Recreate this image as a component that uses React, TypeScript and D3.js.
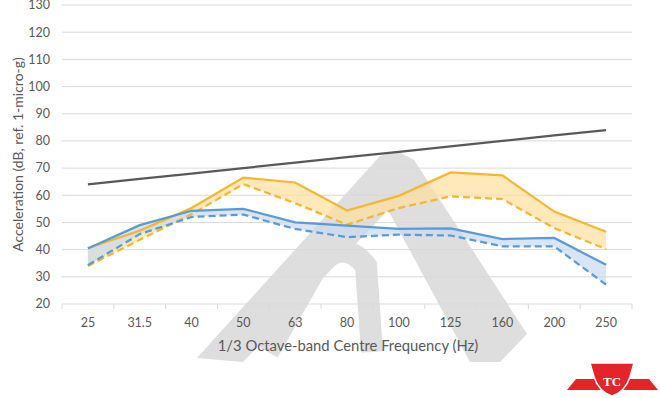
import React from 'react';
import * as d3 from 'd3';

const width = 660;
const height = 398;

// 1/3 octave band centre frequencies (Hz)
const categories = ['25', '31.5', '40', '50', '63', '80', '100', '125', '160', '200', '250'];
const yTicks = [20, 30, 40, 50, 60, 70, 80, 90, 100, 110, 120, 130];

// criterion curve (grey)
const criterion = [64, 66, 68, 70, 72, 74, 76, 78, 80, 82, 84];
// yellow: upper (solid) and lower (dashed) bound
const yellowUpper = [40.6, 47, 55.3, 66.5, 64.7, 54.4, 59.8, 68.4, 67.3, 54, 46.6];
const yellowLower = [34, 43.6, 53, 64.1, 57.1, 49.2, 55.3, 59.6, 58.6, 47.9, 40.2];
// blue: upper (solid) and lower (dashed) bound
const blueUpper = [40.4, 49, 54.3, 55, 50, 48.8, 47.6, 47.8, 43.9, 44.3, 34.4];
const blueLower = [34.3, 45.7, 52, 52.9, 47.6, 44.6, 45.5, 45.2, 41.2, 41.2, 27.1];

const margin = { left: 62, right: 28, top: 5, bottom: 94 };

const App = () => {
  const x = d3
    .scaleBand<string>()
    .domain(categories)
    .range([margin.left, width - margin.right])
    .padding(0);
  const y = d3.scaleLinear().domain([20, 130]).range([height - margin.bottom, margin.top]);
  const cx = (i: number) => (x(categories[i]) as number) + x.bandwidth() / 2;

  const line = d3
    .line<number>()
    .x((d, i) => cx(i))
    .y((d) => y(d));
  const band = (upper: number[], lower: number[]) =>
    d3
      .area<number>()
      .x((d, i) => cx(i))
      .y0((d, i) => y(lower[i]))
      .y1((d) => y(d))(upper) as string;

  const font = 'Lato, "Open Sans", sans-serif';
  const textColor = '#595959';
  const yellow = '#F4B633';
  const blue = '#5B9BD5';
  const y0 = y(20);

  return (
    <svg
      width={width}
      height={height}
      style={{ position: 'absolute', left: 0, top: 0, background: '#fff' }}
      fontFamily={font}
    >
      {/* watermark */}
      <g fill="#d6d6d6" opacity={0.8}>
        <polygon points="380,156 397,151 414,160 527,334 500,362 470,362 388,210 243,362 197,358" />
        <path d="M268 352 L316 268 Q343 236 366 266 L372 352" fill="none" stroke="#d6d6d6" strokeWidth={22} />
      </g>

      {/* grid */}
      {yTicks.map((t) => (
        <line
          key={t}
          x1={margin.left}
          x2={width - margin.right}
          y1={y(t)}
          y2={y(t)}
          stroke="#d9d9d9"
          strokeWidth={1}
        />
      ))}
      {categories.map((c) => (
        <line key={c} x1={x(c)} x2={x(c)} y1={y0} y2={y0 + 5} stroke="#d9d9d9" />
      ))}
      <line x1={width - margin.right} x2={width - margin.right} y1={y0} y2={y0 + 5} stroke="#d9d9d9" />

      {/* filled bands */}
      <path d={band(yellowUpper, yellowLower)} fill="#FFE09C" opacity={0.7} />
      <path d={band(blueUpper, blueLower)} fill="#C9DAF0" opacity={0.7} />

      {/* lines */}
      <path d={line(criterion) as string} fill="none" stroke="#595959" strokeWidth={2.25} />
      <path d={line(yellowLower) as string} fill="none" stroke={yellow} strokeWidth={2.25} strokeDasharray="7,4" />
      <path d={line(yellowUpper) as string} fill="none" stroke={yellow} strokeWidth={2.25} />
      <path d={line(blueLower) as string} fill="none" stroke={blue} strokeWidth={2.25} strokeDasharray="7,4" />
      <path d={line(blueUpper) as string} fill="none" stroke={blue} strokeWidth={2.25} />

      {/* y tick labels */}
      {yTicks.map((t) => (
        <text
          key={t}
          x={50}
          y={y(t)}
          dy="0.35em"
          textAnchor="end"
          fontSize={12.5}
          fill={textColor}
        >
          {t}
        </text>
      ))}
      {/* x tick labels */}
      {categories.map((c, i) => (
        <text key={c} x={cx(i)} y={y0 + 19} dy="0.35em" textAnchor="middle" fontSize={12.5} fill={textColor}>
          {c}
        </text>
      ))}

      <text
        transform={`translate(18,${(y(130) + y(20)) / 2}) rotate(-90)`}
        textAnchor="middle"
        dy="0.35em"
        fontSize={14}
        fill={textColor}
      >
        Acceleration (dB, ref. 1-micro-g)
      </text>
      <text x={348} y={346} dy="0.35em" textAnchor="middle" fontSize={14.8} fill={textColor}>
        1/3 Octave-band Centre Frequency (Hz)
      </text>

      {/* logo */}
      <g>
        <polygon points="567,390 576,379 600,379 602,390" fill="#E3242B" />
        <polygon points="658,390 649,379 625,379 623,390" fill="#E3242B" />
        <path
          d="M590 363 L634 363 L630 377 Q625 392 612 396 Q599 392 594 377 Z"
          fill="#E3242B"
          stroke="#fff"
          strokeWidth={1.5}
        />
        <text x={612} y={381} dy="0.35em" textAnchor="middle" fontSize={13} fontWeight="bold" fill="#fff" fontFamily="serif">
          TC
        </text>
      </g>
    </svg>
  );
};

export default App;
